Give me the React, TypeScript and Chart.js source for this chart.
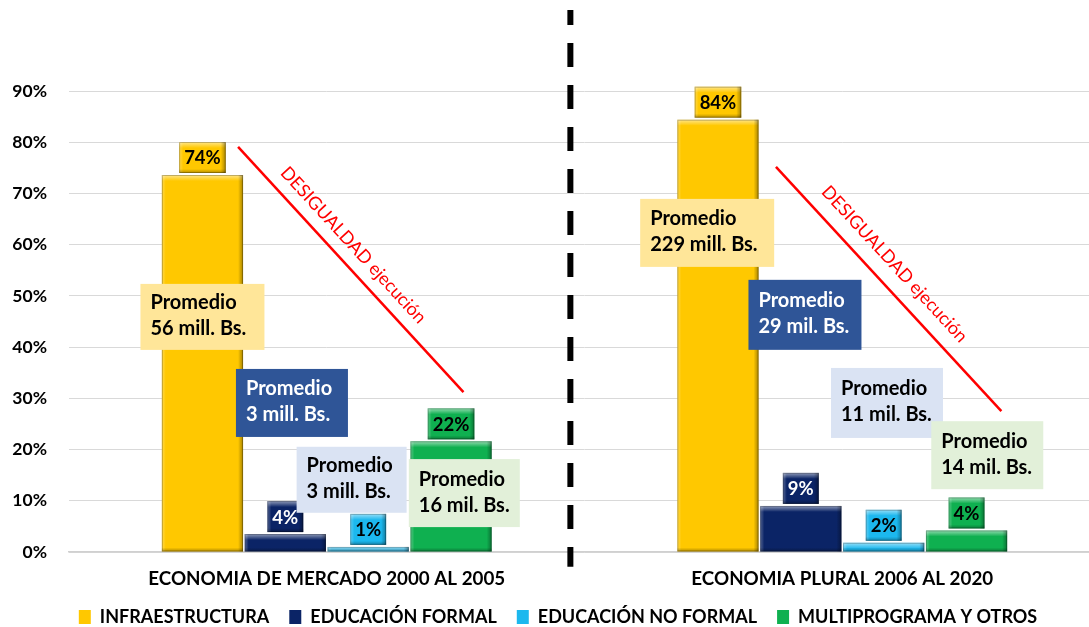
import React, { useEffect, useRef } from 'react';
import { Chart, registerables } from 'chart.js';

Chart.register(...registerables);

// ---------- data ----------
const categories = ['ECONOMIA DE MERCADO 2000 AL 2005', 'ECONOMIA PLURAL 2006 AL 2020'];
const seriesNames = ['INFRAESTRUCTURA', 'EDUCACIÓN FORMAL', 'EDUCACIÓN NO FORMAL', 'MULTIPROGRAMA Y OTROS'];
const infraestructura = [73.6, 84.4];
const educacionFormal = [3.5, 9.0];
const educacionNoFormal = [1.0, 1.8];
const multiprograma = [21.6, 4.2];
const yTicks = [0, 10, 20, 30, 40, 50, 60, 70, 80, 90];
const promedioLabels = [
  ['Promedio', '56 mill. Bs.'],
  ['Promedio', '3 mill. Bs.'],
  ['Promedio', '3 mill. Bs.'],
  ['Promedio', '16 mil. Bs.'],
  ['Promedio', '229 mill. Bs.'],
  ['Promedio', '29 mil. Bs.'],
  ['Promedio', '11 mil. Bs.'],
  ['Promedio', '14 mil. Bs.'],
];
const desigualdadText = 'DESIGUALDAD ejecución';

// ---------- styles ----------
const FONT = 'Lato';
const COLORS = ['#FFC800', '#0B2466', '#1CB8EE', '#0FB050'];
const LABEL_TEXT = ['#000', '#fff', '#000', '#000'];
const CAT_PCT = 0.643;
const BAR_PCT = 0.98;
const CANVAS_W = 1100;
const CANVAS_H = 636;

// annotation placement (category index, offset in bar slots, y in %)
const promedioBoxes = [
  { cat: 0, xu: -1.5, y: 45.9, w: 124, h: 66, bg: '#FFE699', color: '#000' },
  { cat: 0, xu: -0.42, y: 29.1, w: 112, h: 68, bg: '#2F5597', color: '#fff' },
  { cat: 0, xu: 0.3, y: 14.1, w: 110, h: 66, bg: '#DAE3F3', color: '#000' },
  { cat: 0, xu: 1.66, y: 11.5, w: 111, h: 68, bg: '#E2F0D9', color: '#000' },
  { cat: 1, xu: -1.63, y: 62.3, w: 134, h: 68, bg: '#FFE699', color: '#000' },
  { cat: 1, xu: -0.45, y: 46.3, w: 113, h: 70, bg: '#2F5597', color: '#fff' },
  { cat: 1, xu: 0.54, y: 29.1, w: 112, h: 70, bg: '#DAE3F3', color: '#000' },
  { cat: 1, xu: 1.75, y: 18.9, w: 112, h: 68, bg: '#E2F0D9', color: '#000' },
];
const redLines = [
  { cat: 0, x1: -1.07, y1: 79.1, x2: 1.65, y2: 31.2, tx: 0.32, ty: 59.9 },
  { cat: 1, x1: -0.8, y1: 75.2, x2: 1.92, y2: 27.5, tx: 0.63, ty: 56.2 },
];
const divider = { cat: 0, xu: 2.94, yTop: 105.8, yBottom: -2.9 };

function shade(ctx: CanvasRenderingContext2D, l: number, t: number, w: number, h: number) {
  ctx.save();
  let g = ctx.createLinearGradient(0, t, 0, t + 6);
  g.addColorStop(0, 'rgba(255,255,255,0.55)');
  g.addColorStop(1, 'rgba(255,255,255,0)');
  ctx.fillStyle = g;
  ctx.fillRect(l, t, w, Math.min(6, h));
  g = ctx.createLinearGradient(l, 0, l + 4, 0);
  g.addColorStop(0, 'rgba(255,255,255,0.3)');
  g.addColorStop(1, 'rgba(255,255,255,0)');
  ctx.fillStyle = g;
  ctx.fillRect(l, t, Math.min(4, w), h);
  g = ctx.createLinearGradient(l + w - 5, 0, l + w, 0);
  g.addColorStop(0, 'rgba(0,0,0,0)');
  g.addColorStop(1, 'rgba(0,0,0,0.35)');
  ctx.fillStyle = g;
  ctx.fillRect(l + w - 5, t, 5, h);
  g = ctx.createLinearGradient(0, t + h - 4, 0, t + h);
  g.addColorStop(0, 'rgba(0,0,0,0)');
  g.addColorStop(1, 'rgba(0,0,0,0.3)');
  ctx.fillStyle = g;
  ctx.fillRect(l, t + h - 4, w, 4);
  ctx.strokeStyle = 'rgba(0,0,0,0.25)';
  ctx.lineWidth = 1;
  ctx.strokeRect(l + 0.5, t + 0.5, w - 1, h - 1);
  ctx.restore();
}

const decorPlugin = {
  id: 'decor',
  afterDatasetsDraw(chart: any) {
    const ctx: CanvasRenderingContext2D = chart.ctx;
    const xs = chart.scales.x;
    const ys = chart.scales.y;
    const catW = xs.getPixelForValue(1) - xs.getPixelForValue(0);
    const slot = (catW * CAT_PCT) / 4;
    const px = (cat: number, xu: number) => xs.getPixelForValue(cat) + xu * slot;
    const py = (v: number) => ys.getPixelForValue(v);

    chart.data.datasets.forEach((ds: any, di: number) => {
      const meta = chart.getDatasetMeta(di);
      meta.data.forEach((bar: any, i: number) => {
        const w = bar.width;
        const l = bar.x - w / 2;
        const t = bar.y;
        const h = bar.base - bar.y;
        shade(ctx, l, t, w, h);
        const txt = Math.round(ds.data[i]) + '%';
        ctx.save();
        ctx.font = `bold 18.5px ${FONT}`;
        const tw = ctx.measureText(txt).width;
        const bw = tw + 10;
        const bh = 31;
        const bl = bar.x - bw / 2;
        const bt = bar.y - 2 - bh;
        ctx.fillStyle = COLORS[di];
        ctx.fillRect(bl, bt, bw, bh);
        shade(ctx, bl, bt, bw, bh);
        ctx.fillStyle = LABEL_TEXT[di];
        ctx.textAlign = 'center';
        ctx.textBaseline = 'middle';
        ctx.fillText(txt, bar.x, bt + bh / 2 + 1);
        ctx.restore();
      });
    });

    promedioBoxes.forEach((b, i) => {
      const cx = px(b.cat, b.xu);
      const cy = py(b.y);
      const l = cx - b.w / 2;
      const t = cy - b.h / 2;
      ctx.save();
      ctx.fillStyle = b.bg;
      ctx.fillRect(l, t, b.w, b.h);
      ctx.fillStyle = b.color;
      ctx.font = `bold 20px ${FONT}`;
      ctx.textAlign = 'left';
      ctx.textBaseline = 'middle';
      const lines = promedioLabels[i];
      ctx.fillText(lines[0], l + 10, cy - 14);
      ctx.fillText(lines[1], l + 10, cy + 12);
      ctx.restore();
    });

    redLines.forEach((r) => {
      const x1 = px(r.cat, r.x1), y1 = py(r.y1);
      const x2 = px(r.cat, r.x2), y2 = py(r.y2);
      ctx.save();
      ctx.strokeStyle = '#FF0000';
      ctx.lineWidth = 2.5;
      ctx.beginPath();
      ctx.moveTo(x1, y1);
      ctx.lineTo(x2, y2);
      ctx.stroke();
      const ang = Math.atan2(y2 - y1, x2 - x1);
      ctx.translate(px(r.cat, r.tx), py(r.ty));
      ctx.rotate(ang);
      ctx.fillStyle = '#FF0000';
      ctx.font = `18px ${FONT}`;
      ctx.textAlign = 'center';
      ctx.textBaseline = 'middle';
      ctx.fillText(desigualdadText, 0, 0);
      ctx.restore();
    });

    const dx = px(divider.cat, divider.xu);
    ctx.save();
    ctx.strokeStyle = '#000';
    ctx.lineWidth = 6;
    ctx.setLineDash([24, 18]);
    ctx.lineDashOffset = 9;
    ctx.beginPath();
    ctx.moveTo(dx, py(divider.yTop));
    ctx.lineTo(dx, py(divider.yBottom));
    ctx.stroke();
    ctx.restore();
  },
};

export default function App() {
  const ref = useRef<HTMLCanvasElement | null>(null);
  useEffect(() => {
    if (!ref.current) return;
    const seriesData = [infraestructura, educacionFormal, educacionNoFormal, multiprograma];
    const chart = new Chart(ref.current, {
      type: 'bar',
      data: {
        labels: categories,
        datasets: seriesNames.map((name, i) => ({
          label: name,
          data: seriesData[i],
          backgroundColor: COLORS[i],
          borderWidth: 0,
          categoryPercentage: CAT_PCT,
          barPercentage: BAR_PCT,
        })),
      },
      options: {
        responsive: false,
        animation: false,
        devicePixelRatio: 1,
        layout: { padding: { left: 16, top: 91, right: 0, bottom: 0 } },
        plugins: {
          tooltip: { enabled: false },
          legend: {
            position: 'bottom',
            labels: {
              color: '#000',
              font: { family: FONT, size: 18, weight: 'bold' },
              boxWidth: 12,
              boxHeight: 14,
              padding: 20,
            },
          },
        },
        scales: {
          x: {
            afterFit: (s: any) => { s.height = 36; },
            grid: { display: false, drawTicks: false },
            border: { display: true, color: '#D0D0D0', width: 1.5 },
            ticks: {
              color: '#000',
              padding: 16,
              font: { family: FONT, size: 18.8, weight: 'bold' },
              maxRotation: 0,
            },
          },
          y: {
            min: 0,
            max: 90,
            afterFit: (s: any) => {
              s.width = 53;
              s._computeLabelArea = () => undefined;
            },
            afterBuildTicks: (s: any) => { s.ticks = yTicks.map((v) => ({ value: v })); },
            grid: { color: '#D9D9D9', lineWidth: 1, drawTicks: false },
            border: { display: false },
            ticks: {
              color: '#000',
              padding: 22,
              font: { family: FONT, size: 17.5, weight: 'bold' },
              callback: (v: any) => v + '%',
            },
          },
        },
      },
      plugins: [decorPlugin],
    });
    return () => chart.destroy();
  }, []);
  return (
    <div style={{ position: 'absolute', left: 0, top: 0, width: 1089, height: 627, overflow: 'hidden', background: '#fff' }}>
      <canvas ref={ref} width={CANVAS_W} height={CANVAS_H} style={{ display: 'block' }} />
    </div>
  );
}
